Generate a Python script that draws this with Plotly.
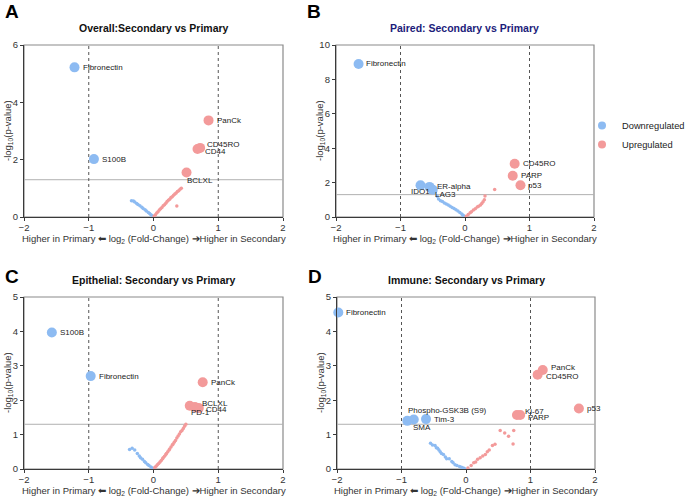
import plotly.graph_objects as go

BLUE = "#8dbbf2"
RED = "#f39a9a"

# ---------- Panel A: Overall ----------
A_sig_names = ["Fibronectin", "S100B", "PanCk", "CD45RO", "CD44", "BCLXL"]
A_sig_x = [-1.22, -0.92, 0.85, 0.72, 0.68, 0.51]
A_sig_y = [5.22, 2.02, 3.37, 2.41, 2.37, 1.55]
A_sig_dir = ["down", "down", "up", "up", "up", "up"]
A_small_down_x = [-0.34, -0.31, -0.29, -0.26, -0.24, -0.21, -0.18, -0.16, -0.13, -0.11, -0.08, -0.06, -0.04, -0.02, -0.01]
A_small_down_y = [0.57, 0.56, 0.52, 0.47, 0.44, 0.39, 0.34, 0.30, 0.25, 0.21, 0.16, 0.12, 0.08, 0.04, 0.02]
A_small_up_x = [0.01, 0.03, 0.05, 0.07, 0.09, 0.11, 0.13, 0.15, 0.17, 0.19, 0.21, 0.23, 0.25, 0.27, 0.29, 0.31, 0.33, 0.35, 0.37, 0.39, 0.41, 0.43, 0.36]
A_small_up_y = [0.03, 0.08, 0.14, 0.18, 0.24, 0.29, 0.33, 0.39, 0.43, 0.48, 0.54, 0.58, 0.62, 0.68, 0.71, 0.76, 0.80, 0.84, 0.89, 0.92, 0.97, 1.00, 0.38]

# ---------- Panel B: Paired ----------
B_sig_names = ["Fibronectin", "IDO1", "ER-alpha", "LAG3", "CD45RO", "PARP", "p53"]
B_sig_x = [-1.65, -0.69, -0.55, -0.50, 0.77, 0.74, 0.86]
B_sig_y = [8.90, 1.85, 1.75, 1.58, 3.10, 2.40, 1.85]
B_sig_dir = ["down", "down", "down", "down", "up", "up", "up"]
B_small_down_x = [-0.43, -0.41, -0.38, -0.35, -0.32, -0.29, -0.26, -0.23, -0.20, -0.17, -0.14, -0.11, -0.08, -0.05, -0.03, -0.01]
B_small_down_y = [1.20, 1.05, 0.95, 0.90, 0.82, 0.75, 0.70, 0.62, 0.55, 0.50, 0.42, 0.35, 0.26, 0.17, 0.10, 0.04]
B_small_up_x = [0.02, 0.05, 0.08, 0.10, 0.13, 0.16, 0.19, 0.21, 0.24, 0.26, 0.28, 0.30, 0.31, 0.46]
B_small_up_y = [0.05, 0.15, 0.25, 0.30, 0.40, 0.48, 0.58, 0.62, 0.70, 0.78, 0.88, 1.00, 1.22, 1.60]

# ---------- Panel C: Epithelial ----------
C_sig_names = ["S100B", "Fibronectin", "PanCk", "PD-1", "BCLXL", "CD44"]
C_sig_x = [-1.57, -0.97, 0.76, 0.56, 0.64, 0.70]
C_sig_y = [3.97, 2.70, 2.52, 1.84, 1.80, 1.77]
C_sig_dir = ["down", "down", "up", "up", "up", "up"]
C_small_down_x = [-0.37, -0.33, -0.29, -0.25, -0.22, -0.20, -0.17, -0.14, -0.12, -0.09, -0.07, -0.04, -0.02]
C_small_down_y = [0.57, 0.60, 0.55, 0.45, 0.38, 0.33, 0.28, 0.22, 0.18, 0.13, 0.10, 0.06, 0.03]
C_small_up_x = [0.02, 0.04, 0.06, 0.08, 0.10, 0.12, 0.14, 0.15, 0.17, 0.19, 0.20, 0.22, 0.24, 0.25, 0.27, 0.29, 0.30, 0.32, 0.34, 0.36, 0.38, 0.40, 0.42, 0.44, 0.46, 0.48, 0.50]
C_small_up_y = [0.04, 0.08, 0.12, 0.16, 0.20, 0.25, 0.30, 0.33, 0.37, 0.42, 0.45, 0.50, 0.55, 0.58, 0.64, 0.70, 0.72, 0.78, 0.83, 0.90, 0.96, 1.02, 1.08, 1.12, 1.18, 1.24, 1.30]

# ---------- Panel D: Immune ----------
D_sig_names = ["Fibronectin", "PanCk", "CD45RO", "p53", "Ki-67", "PARP", "Tim-3", "Phospho-GSK3B (S9)", "SMA"]
D_sig_x = [-1.98, 1.19, 1.11, 1.75, 0.79, 0.84, -0.62, -0.81, -0.91]
D_sig_y = [4.55, 2.88, 2.74, 1.76, 1.57, 1.57, 1.45, 1.44, 1.40]
D_sig_dir = ["down", "up", "up", "up", "up", "up", "down", "down", "down"]
D_small_down_x = [-0.55, -0.52, -0.48, -0.46, -0.44, -0.42, -0.40, -0.38, -0.35, -0.32, -0.30, -0.26, -0.22, -0.20, -0.17, -0.14, -0.10, -0.07, -0.04, -0.02]
D_small_down_y = [0.75, 0.70, 0.68, 0.62, 0.60, 0.55, 0.50, 0.45, 0.42, 0.35, 0.30, 0.30, 0.22, 0.18, 0.12, 0.10, 0.07, 0.05, 0.03, 0.01]
D_small_up_x = [0.03, 0.08, 0.12, 0.15, 0.18, 0.22, 0.26, 0.30, 0.33, 0.36, 0.41, 0.45, 0.53, 0.60, 0.66, 0.74, 0.73]
D_small_up_y = [0.03, 0.10, 0.18, 0.20, 0.28, 0.33, 0.38, 0.42, 0.50, 0.55, 0.68, 0.72, 1.12, 1.05, 0.95, 1.12, 0.73]

LEGEND_NAMES = ["Downregulated", "Upregulated"]

# label placement style: (x shift px, y shift px, x anchor)
A_lab_style = [(6, 0, "left"), (6, 0, "left"), (6, 0, "left"), (5, 3, "left"), (5, -2, "left"), (-2, -8, "left")]
B_lab_style = [(5, 0, "left"), (0, -6, "center"), (5, 0, "left"), (0, -5, "left"), (6, 0, "left"), (6, 0, "left"), (6, 0, "left")]
C_lab_style = [(6, 0, "left"), (6, 0, "left"), (6, 0, "left"), (-1, -7, "left"), (5, 4, "left"), (5, -1, "left")]
D_lab_style = [(6, 0, "left"), (6, 2, "left"), (6, -2, "left"), (6, 0, "left"), (6, 3, "left"), (6, -3, "left"),
               (6, 0, "left"), (-8, 9, "left"), (4, -7, "left")]

panels = [
    dict(key="A", title="Overall:Secondary vs Primary", tcolor="#111111", ymax=6, ytick=2,
         names=A_sig_names, sx=A_sig_x, sy=A_sig_y, sd=A_sig_dir, ls=A_lab_style,
         dx=A_small_down_x, dy=A_small_down_y, ux=A_small_up_x, uy=A_small_up_y,
         xd=[24, 283], yd=[45, 217], letter=(12, 11)),
    dict(key="B", title="Paired: Secondary vs Primary", tcolor="#1c1c7a", ymax=10, ytick=2,
         names=B_sig_names, sx=B_sig_x, sy=B_sig_y, sd=B_sig_dir, ls=B_lab_style,
         dx=B_small_down_x, dy=B_small_down_y, ux=B_small_up_x, uy=B_small_up_y,
         xd=[336, 594], yd=[45, 217], letter=(314, 11)),
    dict(key="C", title="Epithelial: Secondary vs Primary", tcolor="#111111", ymax=5, ytick=1,
         names=C_sig_names, sx=C_sig_x, sy=C_sig_y, sd=C_sig_dir, ls=C_lab_style,
         dx=C_small_down_x, dy=C_small_down_y, ux=C_small_up_x, uy=C_small_up_y,
         xd=[24, 283], yd=[297, 469], letter=(12, 276)),
    dict(key="D", title="Immune: Secondary vs Primary", tcolor="#111111", ymax=5, ytick=1,
         names=D_sig_names, sx=D_sig_x, sy=D_sig_y, sd=D_sig_dir, ls=D_lab_style,
         dx=D_small_down_x, dy=D_small_down_y, ux=D_small_up_x, uy=D_small_up_y,
         xd=[337, 595], yd=[297, 469], letter=(315, 276)),
]

W, H = 685, 498
FONT = "Liberation Sans, Arial, sans-serif"
fig = go.Figure()
annotations = []
shapes = []
layout_axes = {}

for i, p in enumerate(panels):
    n = i + 1
    xa = "x" if n == 1 else f"x{n}"
    ya = "y" if n == 1 else f"y{n}"
    xkey = "xaxis" if n == 1 else f"xaxis{n}"
    ykey = "yaxis" if n == 1 else f"yaxis{n}"
    fig.add_trace(go.Scatter(x=p["dx"], y=p["dy"], xaxis=xa, yaxis=ya, mode="markers",
                             marker=dict(color=BLUE, size=3.5),
                             showlegend=False, hoverinfo="skip"))
    fig.add_trace(go.Scatter(x=p["ux"], y=p["uy"], xaxis=xa, yaxis=ya, mode="markers",
                             marker=dict(color=RED, size=3.5),
                             showlegend=False, hoverinfo="skip"))
    for d, col, lab in [("down", BLUE, LEGEND_NAMES[0]), ("up", RED, LEGEND_NAMES[1])]:
        idx = [k for k, v in enumerate(p["sd"]) if v == d]
        fig.add_trace(go.Scatter(
            x=[p["sx"][k] for k in idx], y=[p["sy"][k] for k in idx],
            text=[p["names"][k] for k in idx], hoverinfo="text",
            xaxis=xa, yaxis=ya, mode="markers", cliponaxis=False,
            marker=dict(color=col, size=10), name=lab,
            legendgroup=lab, showlegend=False))
    for k, name in enumerate(p["names"]):
        sx_, sy_, anc = p["ls"][k]
        annotations.append(dict(text=name, x=p["sx"][k], y=p["sy"][k], xref=xa, yref=ya,
                                showarrow=False, xanchor=anc, yanchor="middle",
                                xshift=sx_, yshift=sy_,
                                font=dict(size=8, color="#222222", family=FONT)))
    x0, x1 = p["xd"]
    y0, y1 = p["yd"]
    axcommon = dict(showgrid=False, zeroline=False, showline=True, mirror=False,
                    linecolor="#3a3a3a", linewidth=1.3, ticks="outside", ticklen=3,
                    tickcolor="#3a3a3a", automargin=False,
                    tickfont=dict(size=9.5, color="#333333", family=FONT))
    layout_axes[xkey] = dict(domain=[x0 / W, x1 / W], range=[-2, 2], anchor=ya,
                             tickvals=[-2, -1, 0, 1, 2], ticklabelstandoff=-2, **axcommon)
    layout_axes[ykey] = dict(domain=[1 - y1 / H, 1 - y0 / H], range=[0, p["ymax"]], anchor=xa,
                             dtick=p["ytick"], **axcommon)
    shapes.append(dict(type="rect", xref=f"{xa} domain", yref=f"{ya} domain", x0=0, x1=1, y0=0, y1=1,
                       line=dict(color="#8a8a8a", width=1.2), layer="below"))
    shapes.append(dict(type="line", xref=f"{xa} domain", yref=ya, x0=0, x1=1, y0=1.3, y1=1.3,
                       line=dict(color="#b0b0b0", width=1), layer="below"))
    for xv in [-1, 1]:
        shapes.append(dict(type="line", xref=xa, yref=f"{ya} domain", x0=xv, x1=xv, y0=0, y1=1,
                           line=dict(color="#555555", width=1, dash="dot"), layer="below"))
    cx = (x0 + x1) / 2
    annotations.append(dict(text=f"<b>{p['title']}</b>", x=cx / W, y=1 - (y0 - 17) / H,
                            xref="paper", yref="paper", showarrow=False,
                            font=dict(size=10.5, color=p["tcolor"], family=FONT),
                            xanchor="center", yanchor="middle"))
    lx, ly = p["letter"]
    annotations.append(dict(text=f"<b>{p['key']}</b>", x=lx / W, y=1 - ly / H,
                            xref="paper", yref="paper", showarrow=False,
                            font=dict(size=19, color="#000000", family=FONT),
                            xanchor="center", yanchor="middle"))
    annotations.append(dict(text="Higher in Primary \u2B05 log<sub>2</sub> (Fold-Change) \u2794Higher in Secondary",
                            x=cx / W, y=1 - (y1 + 22) / H, xref="paper", yref="paper",
                            showarrow=False, font=dict(size=9.5, color="#333333", family=FONT),
                            xanchor="center", yanchor="middle"))
    annotations.append(dict(text="-log<sub>10</sub>(p-value)", x=(x0 - 16) / W,
                            y=1 - ((y0 + y1) / 2) / H, xref="paper", yref="paper",
                            showarrow=False, textangle=-90,
                            font=dict(size=9.5, color="#333333", family=FONT),
                            xanchor="center", yanchor="middle"))

# legend-only entries
for col, lab in [(BLUE, LEGEND_NAMES[0]), (RED, LEGEND_NAMES[1])]:
    fig.add_trace(go.Scatter(x=[None], y=[None], mode="markers", name=lab,
                             marker=dict(color=col, size=8), legendgroup=lab, showlegend=True))

fig.update_layout(
    width=W, height=H, margin=dict(l=0, r=0, t=0, b=0, autoexpand=False),
    plot_bgcolor="white", paper_bgcolor="white",
    font=dict(family=FONT),
    annotations=annotations, shapes=shapes,
    legend=dict(x=582 / W, y=1 - 111 / H, xanchor="left", yanchor="top",
                font=dict(size=9.3, color="#222222", family=FONT),
                bgcolor="rgba(0,0,0,0)", itemsizing="trace", tracegroupgap=0),
    **layout_axes,
)

fig.write_html("out.html")
